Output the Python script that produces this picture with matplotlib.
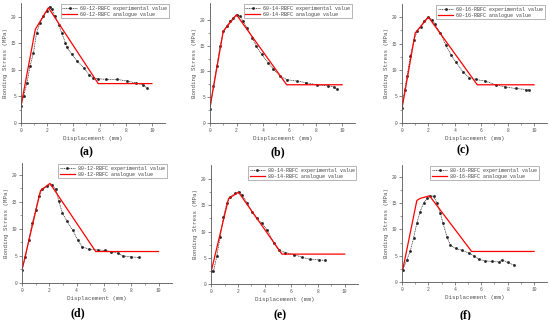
import matplotlib.pyplot as plt

# experimental curves
a_exp_x = [0, 0.2, 0.46, 0.7, 0.96, 1.2, 1.47, 1.7, 2.0, 2.2, 2.35, 2.6, 2.9, 3.1, 3.4, 3.5, 3.9, 4.3, 4.8, 5.2, 5.5, 5.9, 6.5, 7.3, 8.1, 8.8, 9.3, 9.6]
a_exp_y = [3.1, 5.0, 7.5, 10.7, 13.2, 17.0, 18.9, 20.1, 21.1, 21.9, 21.4, 20.1, 18.5, 17.0, 15.1, 14.2, 12.9, 11.6, 10.4, 9.1, 8.5, 8.3, 8.2, 8.2, 7.9, 7.5, 7.2, 6.6]
b_exp_x = [0, 0.25, 0.5, 0.76, 1.0, 1.27, 1.5, 1.77, 2.0, 2.3, 2.5, 2.8, 3.2, 3.5, 3.9, 4.4, 4.8, 5.3, 5.8, 6.6, 7.3, 8.1, 8.9, 9.4, 9.6]
b_exp_y = [2.6, 7.1, 11.0, 14.9, 17.8, 18.8, 19.7, 20.4, 21.0, 20.7, 19.7, 18.4, 16.5, 14.9, 13.3, 11.7, 10.4, 9.1, 8.4, 8.1, 7.8, 7.4, 7.2, 7.0, 6.5]
c_exp_x = [0, 0.2, 0.38, 0.63, 0.9, 1.14, 1.4, 1.65, 2.0, 2.3, 2.5, 2.9, 3.3, 3.7, 4.05, 4.6, 5.1, 5.6, 6.3, 7.1, 7.8, 8.6, 9.4, 9.6]
c_exp_y = [2.8, 6.3, 8.8, 12.6, 15.7, 17.3, 18.2, 19.2, 20.0, 19.5, 18.6, 17.0, 14.8, 12.9, 11.6, 9.7, 8.5, 8.2, 7.9, 7.2, 6.8, 6.5, 6.3, 6.3]
d_exp_x = [0, 0.25, 0.5, 0.74, 1.0, 1.23, 1.48, 1.85, 2.2, 2.47, 2.7, 2.96, 3.3, 3.7, 4.07, 4.4, 4.9, 5.55, 6.05, 6.5, 7.0, 7.4, 8.0, 8.6]
d_exp_y = [2.4, 4.8, 8.0, 11.0, 13.5, 16.0, 17.3, 17.9, 18.2, 17.3, 15.1, 12.9, 11.4, 9.8, 8.0, 6.7, 6.2, 6.1, 6.0, 5.8, 5.5, 5.0, 4.8, 4.7]
e_exp_x = [0, 0.17, 0.42, 0.67, 0.92, 1.17, 1.42, 1.8, 2.05, 2.3, 2.7, 3.05, 3.4, 3.8, 4.2, 4.7, 5.05, 5.55, 6.2, 6.8, 7.4, 8.05, 8.55]
e_exp_y = [2.4, 2.4, 5.3, 9.0, 12.8, 15.4, 16.6, 17.3, 17.6, 17.0, 15.4, 13.8, 12.5, 11.6, 10.3, 7.8, 6.5, 6.0, 5.6, 5.1, 4.7, 4.6, 4.5]
f_exp_x = [0.05, 0.36, 0.61, 0.87, 1.12, 1.37, 1.63, 1.88, 2.14, 2.39, 2.65, 2.9, 3.1, 3.4, 3.66, 4.05, 4.56, 5.06, 5.44, 5.83, 6.3, 6.85, 7.36, 7.6, 8.0, 8.5]
f_exp_y = [2.3, 4.2, 5.8, 8.3, 11.2, 13.4, 15.0, 15.9, 16.4, 16.3, 15.0, 13.1, 11.2, 8.6, 7.0, 6.4, 6.0, 5.5, 5.0, 4.3, 4.0, 3.9, 3.8, 4.2, 3.7, 3.2]

# analogue (model) curves
a_sim_x = [0, 1.1, 2.1, 5.9, 10]
a_sim_y = [3.1, 17.6, 21.7, 7.4, 7.4]
b_sim_x = [0, 1.0, 2.0, 5.8, 10]
b_sim_y = [3.2, 17.8, 21.0, 7.4, 7.4]
c_sim_x = [0, 1.0, 2.0, 5.7, 10]
c_sim_y = [2.8, 17.0, 20.0, 7.2, 7.2]
d_sim_x = [0, 1.36, 2.05, 5.4, 10]
d_sim_y = [2.4, 17.1, 18.4, 5.8, 5.8]
e_sim_x = [0, 1.3, 2.05, 5.3, 10]
e_sim_y = [2.4, 16.3, 17.5, 5.7, 5.7]
f_sim_x = [0.05, 1.12, 1.37, 2.08, 5.27, 10]
f_sim_y = [2.3, 15.5, 15.9, 16.4, 5.8, 5.8]

names = ['60-12-RBFC', '60-14-RBFC', '60-16-RBFC', '80-12-RBFC', '80-14-RBFC', '80-16-RBFC']
tags = ['(a)', '(b)', '(c)', '(d)', '(e)', '(f)']
exp_x = [a_exp_x, b_exp_x, c_exp_x, d_exp_x, e_exp_x, f_exp_x]
exp_y = [a_exp_y, b_exp_y, c_exp_y, d_exp_y, e_exp_y, f_exp_y]
sim_x = [a_sim_x, b_sim_x, c_sim_x, d_sim_x, e_sim_x, f_sim_x]
sim_y = [a_sim_y, b_sim_y, c_sim_y, d_sim_y, e_sim_y, f_sim_y]

# axes boxes in figure fractions, y upper limit, legend anchor x
boxes = [(0.038, 0.616, 0.262, 0.375), (0.382, 0.616, 0.264, 0.375), (0.731, 0.616, 0.264, 0.372),
         (0.040, 0.116, 0.273, 0.375), (0.384, 0.1125, 0.267, 0.372), (0.731, 0.119, 0.264, 0.366)]
ytops = [22.6, 23.3, 22.5, 22.2, 22.7, 22.3]
leg_x = [1.035, 0.985, 0.99, 0.97, 0.995, 0.95]
tag_pos = [(86, 152), (278, 152), (463, 150), (78, 313), (280, 315), (465, 315)]

mono = 'Liberation Mono'
gray = '#555555'

fig = plt.figure(figsize=(5.5, 3.2), dpi=100)

for i in range(6):
    ax = fig.add_axes(boxes[i])
    ax.plot(exp_x[i], exp_y[i], color='#222222', ls=(0, (1.5, 1)), lw=0.5,
            marker='s', ms=0.9, label=names[i] + ' experimental value')
    ax.plot(sim_x[i], sim_y[i], color='red', lw=0.9,
            label=names[i] + ' analogue value')
    ax.set_xlim(0, 11)
    ax.set_ylim(0, ytops[i])
    ax.set_xticks([0, 2, 4, 6, 8, 10])
    ax.set_xticks([1, 3, 5, 7, 9], minor=True)
    ax.set_yticks([0, 5, 10, 15, 20])
    ax.set_yticks([2.5, 7.5, 12.5, 17.5], minor=True)
    ax.spines['top'].set_visible(False)
    ax.spines['right'].set_visible(False)
    for s in ['left', 'bottom']:
        ax.spines[s].set_color(gray)
        ax.spines[s].set_linewidth(0.6)
    ax.tick_params(which='major', length=2, width=0.5, color=gray,
                   labelsize=3.3, labelcolor=gray, pad=1.5)
    ax.tick_params(which='minor', length=1.2, width=0.4, color=gray)
    for lab in ax.get_xticklabels() + ax.get_yticklabels():
        lab.set_family(mono)
    ax.set_xlabel('Displacement (mm)', fontsize=4.2, family=mono, color=gray, labelpad=2)
    ax.set_ylabel('Bonding Stress (MPa)', fontsize=4.2, family=mono, color=gray, labelpad=2)
    leg = ax.legend(loc='upper right', bbox_to_anchor=(leg_x[i], 1.0),
                    prop={'family': mono, 'size': 3.6}, fancybox=False,
                    edgecolor='#999999', framealpha=1, handlelength=3.0,
                    borderpad=0.35, labelspacing=0.2, handletextpad=0.6,
                    borderaxespad=0.2)
    leg.get_frame().set_linewidth(0.5)
    for t in leg.get_texts():
        t.set_color('#444444')
    fig.text(tag_pos[i][0] / 550, 1 - tag_pos[i][1] / 320, tags[i],
             ha='center', va='center', fontsize=8.5, fontweight='bold',
             family='Liberation Serif')

fig.savefig('out.png', dpi=100)
